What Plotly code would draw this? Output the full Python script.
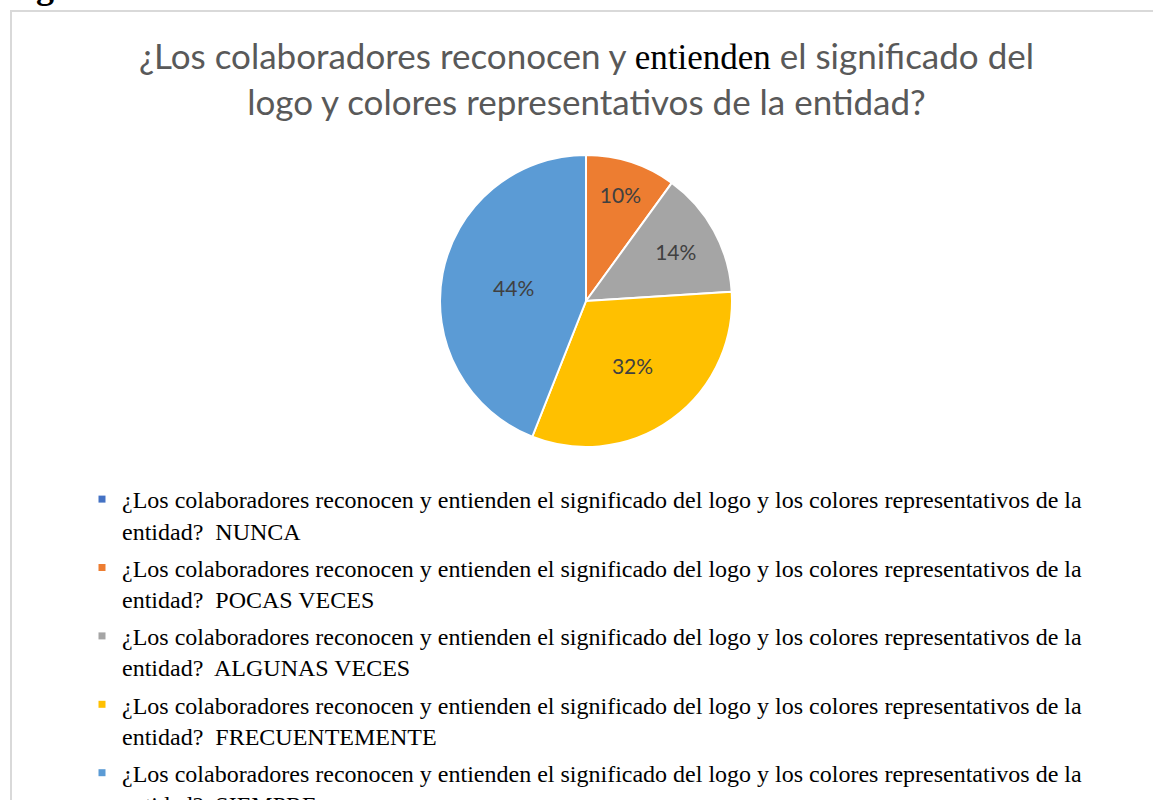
import plotly.graph_objects as go

W, H = 1153, 800

categories = ["NUNCA", "POCAS VECES", "ALGUNAS VECES", "FRECUENTEMENTE", "SIEMPRE"]
percentages = [0, 10, 14, 32, 44]
colors = ["#4472C4", "#ED7D31", "#A5A5A5", "#FFC000", "#5B9BD5"]

question_line1 = ("¿Los colaboradores reconocen y entienden el significado del logo "
                  "y los colores representativos de la")
question_line2 = "entidad?"
legend_labels = [f"{question_line1}<br>{question_line2}  {c}" for c in categories]

title_text = ("¿Los colaboradores reconocen y "
              "<span style='font-family:Liberation Serif;color:#000000'>entienden</span>"
              " el significado del<br>logo y colores representativos de la entidad?")
figure_label = "Figura N°06:"

cx, cy, R = 586, 301, 146

fig = go.Figure()
fig.add_trace(go.Pie(
    labels=categories,
    values=percentages,
    sort=False,
    direction="clockwise",
    rotation=0,
    marker=dict(colors=colors, line=dict(color="white", width=2)),
    texttemplate=["" if v == 0 else "%{percent:.0%}" for v in percentages],
    textposition="inside",
    insidetextorientation="horizontal",
    textfont=dict(family="Lato", size=21, color="#404040"),
    showlegend=False,
    domain=dict(x=[(cx - R) / W, (cx + R) / W], y=[1 - (cy + R) / H, 1 - (cy - R) / H]),
))

for lab, col, cat in zip(legend_labels, colors, categories):
    fig.add_trace(go.Scatter(
        x=[None], y=[None], mode="markers",
        marker=dict(symbol="square", size=7, color=col),
        name=lab, legendgroup=cat, showlegend=True, hoverinfo="skip",
    ))

fig.update_layout(
    width=W, height=H,
    margin=dict(l=0, r=0, t=0, b=0, autoexpand=False),
    paper_bgcolor="white", plot_bgcolor="white",
    xaxis=dict(visible=False), yaxis=dict(visible=False),
    legend=dict(x=82 / W, xanchor="left", y=1 - 477 / H, yanchor="top",
                font=dict(family="Liberation Serif", size=24, color="#000000"),
                tracegroupgap=3, valign="top", bgcolor="rgba(0,0,0,0)",
                itemclick=False, itemdoubleclick=False),
    shapes=[dict(type="rect", xref="paper", yref="paper",
                 x0=11 / W, x1=1.05, y0=-0.05, y1=1 - 11 / H,
                 line=dict(color="#D9D9D9", width=2), fillcolor="rgba(0,0,0,0)")],
    annotations=[
        dict(text=title_text, xref="paper", yref="paper", x=cx / W, xanchor="center",
             y=1 - 77.5 / H, yanchor="middle", showarrow=False, align="center",
             font=dict(family="Lato", size=35, color="#595959")),
        dict(text=f"<b>{figure_label}</b>", xref="paper", yref="paper", x=2 / W, xanchor="left",
             y=1 + 14 / H, yanchor="middle", showarrow=False,
             font=dict(family="Liberation Serif", size=36, color="#000000")),
    ],
)

fig.write_html("out.html", config={"displayModeBar": False},
               post_script="document.body.style.margin='0';document.body.style.overflow='hidden';")
